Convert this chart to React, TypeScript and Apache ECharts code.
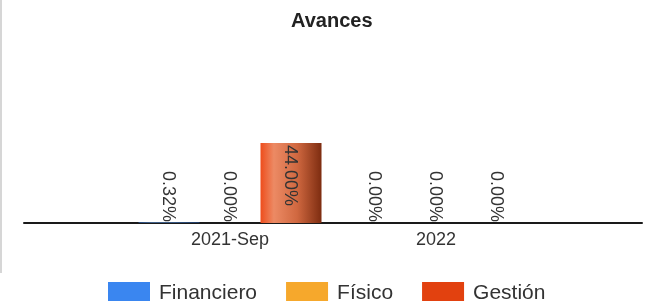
import React, { useEffect, useRef } from "react";
import * as echarts from "echarts";

const categories = ["2021-Sep", "2022"];
const seriesNames = ["Financiero", "Físico", "Gestión"];
const financiero = [0.32, 0];
const fisico = [0, 0];
const gestion = [44, 0];
const seriesColors = ["#3a86f0", "#f6a82c", "#e2410f"];

const gradients: string[][] = [
  ["#2f74d8", "#6aa6f5", "#4f8fe6", "#1f55a8"],
  ["#e89420", "#f8c46a", "#eaa542", "#a8660c"],
  ["#ee4d1c", "#ec8a64", "#d06840", "#7d2c10"],
];

function makeGradient(stops: string[]) {
  return new echarts.graphic.LinearGradient(0, 0, 1, 0, [
    { offset: 0, color: stops[0] },
    { offset: 0.22, color: stops[1] },
    { offset: 0.6, color: stops[2] },
    { offset: 1, color: stops[3] },
  ]);
}

export default function App() {
  const ref = useRef<HTMLDivElement>(null);
  useEffect(() => {
    if (!ref.current) return;
    const chart = echarts.init(ref.current, null, { renderer: "svg" });
    const axisData = ["", ...categories, ""];
    const allValues = [financiero, fisico, gestion];
    const series = allValues.map((vals, si) => ({
      name: seriesNames[si],
      type: "bar",
      barWidth: 61,
      barGap: "0%",
      color: seriesColors[si],
      label: {
        show: true,
        rotate: -90,
        position: "insideBottom",
        distance: 1,
        align: "right",
        verticalAlign: "middle",
        fontSize: 18,
        color: "#333",
        fontFamily: "Liberation Sans, Arial, sans-serif",
        formatter: (p: any) => Number(p.value).toFixed(2) + "%",
      },
      data: [
        "-",
        ...vals.map((v) => {
          const item: any = {
            value: v,
            itemStyle: { color: makeGradient(gradients[si]) },
          };
          if (v > 10) {
            item.label = {
              position: "insideTop",
              align: "left",
              verticalAlign: "middle",
              distance: 2,
            };
          }
          return item;
        }),
        "-",
      ],
    }));
    chart.setOption({
      animation: false,
      textStyle: { fontFamily: "Liberation Sans, Arial, sans-serif" },
      title: {
        text: "Avances",
        left: 286,
        top: 5,
        textStyle: { fontSize: 20, fontWeight: "bold", color: "#222" },
      },
      graphic: [
        {
          type: "rect",
          left: 0,
          top: 0,
          shape: { width: 2, height: 273 },
          style: { fill: "#d6d6d6" },
        },
      ],
      legend: {
        left: 108,
        top: 281,
        padding: 0,
        itemWidth: 42,
        itemHeight: 19,
        itemGap: 29,
        icon: "rect",
        textStyle: { fontSize: 21, color: "#333", padding: [0, 0, 0, 4] },
        data: seriesNames.map((n, i) => ({
          name: n,
          itemStyle: { color: seriesColors[i] },
        })),
      },
      grid: { left: 24, right: 7, top: 41, bottom: 81 },
      xAxis: {
        type: "category",
        data: axisData,
        boundaryGap: false,
        axisLine: { lineStyle: { color: "#1a1a1a", width: 2 } },
        axisTick: { show: false },
        axisLabel: { fontSize: 18, color: "#333", margin: 7, interval: 0 },
        splitLine: { show: false },
      },
      yAxis: {
        type: "value",
        min: 0,
        max: 100,
        show: false,
        splitLine: { show: false },
      },
      series,
    });
    return () => chart.dispose();
  }, []);
  return (
    <div
      ref={ref}
      style={{ position: "fixed", left: 0, top: 0, width: 649, height: 304 }}
    />
  );
}
